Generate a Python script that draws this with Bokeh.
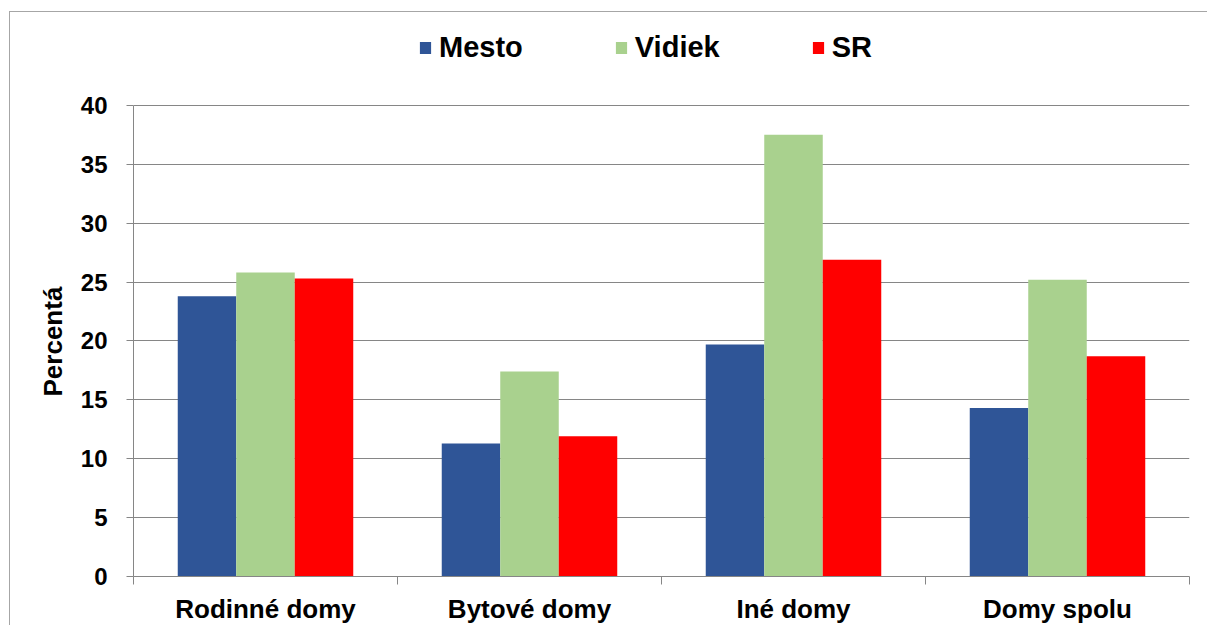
from bokeh.plotting import figure
from bokeh.models import Range1d, FixedTicker, Legend, LegendItem, ColumnDataSource, Title
from bokeh.transform import dodge
from bokeh.embed import file_html
from bokeh.resources import INLINE

categories = ["Rodinné domy", "Bytové domy", "Iné domy", "Domy spolu"]
series_names = ["Mesto", "Vidiek", "SR"]
mesto = [23.8, 11.3, 19.7, 14.3]
vidiek = [25.8, 17.4, 37.5, 25.2]
sr = [25.3, 11.9, 26.9, 18.7]
y_ticks = [0, 5, 10, 15, 20, 25, 30, 35, 40]
colors = ["#2F5597", "#A9D18E", "#FF0000"]

FONT = "Liberation Sans"

# frame spans from top of chart area to the 0-line; axis max 40 sits lower
FRAME_H = 565
AXIS_H = 472
y_top = 40 * FRAME_H / AXIS_H

xpos = [i + 0.5 for i in range(len(categories))]
src = ColumnDataSource(dict(x=xpos, Mesto=mesto, Vidiek=vidiek, SR=sr))

p = figure(width=1198, height=614, output_backend="svg", toolbar_location=None,
           x_range=Range1d(0, len(categories)), y_range=Range1d(0, y_top),
           min_border_left=123, min_border_right=19, min_border_top=0, min_border_bottom=49)
p.margin = (11, 0, 0, 9)
p.styles = {"border-top": "1px solid #a6a6a6", "border-left": "1px solid #a6a6a6"}
p.outline_line_color = None
p.background_fill_color = "white"
p.border_fill_color = "white"

bw = 0.2216
offsets = [-bw, 0, bw]
renderers = []
for name, col, off in zip(series_names, colors, offsets):
    r = p.vbar(x=dodge("x", off), top=name, width=bw, source=src,
               fill_color=col, line_color=None)
    renderers.append(r)

# x axis
p.xaxis.ticker = FixedTicker(ticks=xpos, minor_ticks=list(range(len(categories) + 1)))
p.xaxis.major_label_overrides = {x: c for x, c in zip(xpos, categories)}
p.xaxis.major_tick_line_color = None
p.xaxis.major_tick_out = 0
p.xaxis.major_tick_in = 0
p.xaxis.minor_tick_line_color = "#868686"
p.xaxis.minor_tick_out = 8
p.xaxis.minor_tick_in = 0
p.xaxis.axis_line_color = "#868686"
p.xaxis.major_label_text_font = FONT
p.xaxis.major_label_text_font_style = "bold"
p.xaxis.major_label_text_font_size = "26px"
p.xaxis.major_label_text_color = "black"
p.xaxis.major_label_standoff = 9

# y axis
p.yaxis.ticker = FixedTicker(ticks=y_ticks)
p.yaxis.bounds = (0, 40)
p.yaxis.minor_tick_line_color = None
p.yaxis.major_tick_out = 7
p.yaxis.major_tick_in = 0
p.yaxis.major_tick_line_color = "#868686"
p.yaxis.axis_line_color = "#868686"
p.yaxis.major_label_text_font = FONT
p.yaxis.major_label_text_font_style = "bold"
p.yaxis.major_label_text_font_size = "24px"
p.yaxis.major_label_text_color = "black"
p.yaxis.major_label_standoff = 19

ytitle = Title(text="Percentá", align="left", offset=180, standoff=20,
               text_font=FONT, text_font_style="bold", text_font_size="26px",
               text_color="black")
p.add_layout(ytitle, "left")

p.xgrid.grid_line_color = None
p.ygrid.grid_line_color = "#868686"
p.ygrid.ticker = FixedTicker(ticks=y_ticks)

legend = Legend(items=[LegendItem(label=n, renderers=[r]) for n, r in zip(series_names, renderers)],
                orientation="horizontal", location=(285, 512))
legend.border_line_color = None
legend.background_fill_alpha = 0
legend.padding = 0
legend.margin = 0
legend.spacing = 91
legend.glyph_width = 14
legend.glyph_height = 15
legend.label_standoff = 7
legend.label_text_font = FONT
legend.label_text_font_style = "bold"
legend.label_text_font_size = "29px"
legend.label_text_color = "black"
p.add_layout(legend, "center")

open("out.html", "w").write(file_html(p, INLINE))
